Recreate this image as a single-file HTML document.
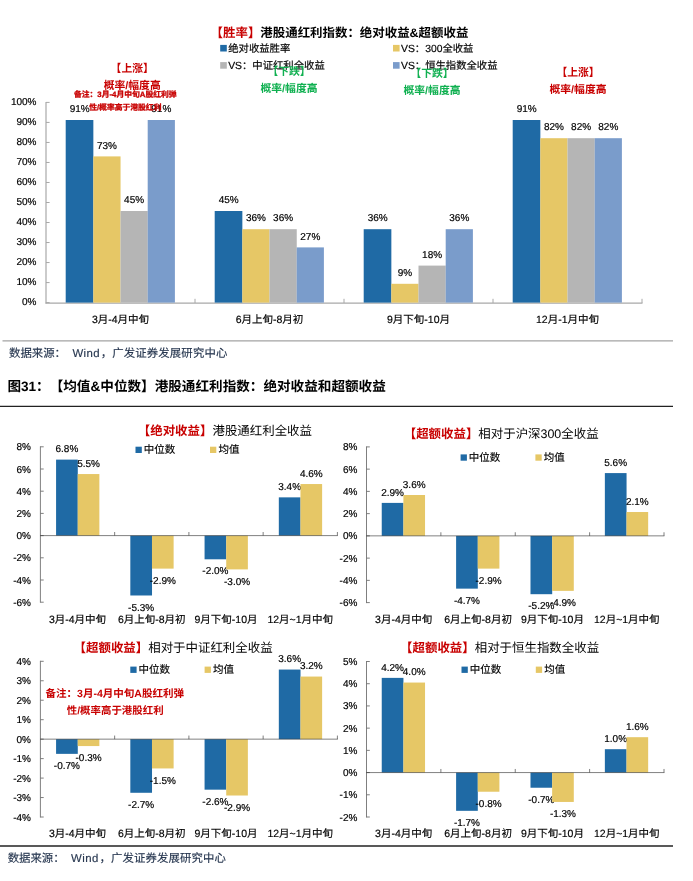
<!DOCTYPE html>
<html lang="zh-CN">
<head>
<meta charset="utf-8">
<title>港股通红利指数：绝对收益与超额收益</title>
<style>
html,body{margin:0;padding:0;background:#fff;}
body{width:693px;height:881px;overflow:hidden;}
svg{display:block;}
.c{font-family:"Liberation Sans","Noto Sans CJK SC",sans-serif;text-spacing-trim:space-all;}
.n{font-family:"Liberation Sans",sans-serif;stroke:#000;stroke-width:0.18px;}
.k{stroke:#000;stroke-width:0.16px;}
</style>
</head>
<body>
<svg width="693" height="881" viewBox="0 0 693 881" text-rendering="geometricPrecision">
<g>
<text class="c" x="210.6" y="36.7" font-size="12.45" font-weight="700"><tspan fill="#c80000">【胜率】</tspan><tspan fill="#000">港股通红利指数：绝对收益&amp;超额收益</tspan></text>
<rect x="220.2" y="44.9" width="6.6" height="6.6" fill="#1f6aa5"/>
<text class="c k" x="228.2" y="51.65" font-size="10.35" text-anchor="start" fill="#000">绝对收益胜率</text>
<rect x="393" y="44.9" width="6.6" height="6.6" fill="#e6c766"/>
<text class="c k" x="401" y="51.65" font-size="10.35" text-anchor="start" fill="#000">VS：300全收益</text>
<rect x="220.2" y="62.1" width="6.6" height="6.6" fill="#b5b5b5"/>
<text class="c k" x="228.2" y="68.85" font-size="10.35" text-anchor="start" fill="#000">VS：中证红利全收益</text>
<rect x="393" y="62.1" width="6.6" height="6.6" fill="#7a9ccb"/>
<text class="c k" x="401" y="68.85" font-size="10.35" text-anchor="start" fill="#000">VS：恒生指数全收益</text>
<line x1="46" y1="101.9" x2="46" y2="303.5" stroke="#a8a8a8" stroke-width="1.2"/>
<line x1="46" y1="302.6" x2="49.6" y2="302.6" stroke="#a8a8a8" stroke-width="1"/>
<text class="n" x="36.5" y="305.35" font-size="10" text-anchor="end" fill="#000">0%</text>
<line x1="46" y1="282.58" x2="49.6" y2="282.58" stroke="#a8a8a8" stroke-width="1"/>
<text class="n" x="36.5" y="285.33" font-size="10" text-anchor="end" fill="#000">10%</text>
<line x1="46" y1="262.56" x2="49.6" y2="262.56" stroke="#a8a8a8" stroke-width="1"/>
<text class="n" x="36.5" y="265.31" font-size="10" text-anchor="end" fill="#000">20%</text>
<line x1="46" y1="242.54" x2="49.6" y2="242.54" stroke="#a8a8a8" stroke-width="1"/>
<text class="n" x="36.5" y="245.29" font-size="10" text-anchor="end" fill="#000">30%</text>
<line x1="46" y1="222.52" x2="49.6" y2="222.52" stroke="#a8a8a8" stroke-width="1"/>
<text class="n" x="36.5" y="225.27" font-size="10" text-anchor="end" fill="#000">40%</text>
<line x1="46" y1="202.5" x2="49.6" y2="202.5" stroke="#a8a8a8" stroke-width="1"/>
<text class="n" x="36.5" y="205.25" font-size="10" text-anchor="end" fill="#000">50%</text>
<line x1="46" y1="182.48" x2="49.6" y2="182.48" stroke="#a8a8a8" stroke-width="1"/>
<text class="n" x="36.5" y="185.23" font-size="10" text-anchor="end" fill="#000">60%</text>
<line x1="46" y1="162.46" x2="49.6" y2="162.46" stroke="#a8a8a8" stroke-width="1"/>
<text class="n" x="36.5" y="165.21" font-size="10" text-anchor="end" fill="#000">70%</text>
<line x1="46" y1="142.44" x2="49.6" y2="142.44" stroke="#a8a8a8" stroke-width="1"/>
<text class="n" x="36.5" y="145.19" font-size="10" text-anchor="end" fill="#000">80%</text>
<line x1="46" y1="122.42" x2="49.6" y2="122.42" stroke="#a8a8a8" stroke-width="1"/>
<text class="n" x="36.5" y="125.17" font-size="10" text-anchor="end" fill="#000">90%</text>
<line x1="46" y1="102.4" x2="49.6" y2="102.4" stroke="#a8a8a8" stroke-width="1"/>
<text class="n" x="36.5" y="105.15" font-size="10" text-anchor="end" fill="#000">100%</text>
<line x1="45.5" y1="303.1" x2="642.5" y2="303.1" stroke="#a8a8a8" stroke-width="1.2"/>
<line x1="195" y1="303" x2="195" y2="298.8" stroke="#a8a8a8" stroke-width="1"/>
<line x1="344" y1="303" x2="344" y2="298.8" stroke="#a8a8a8" stroke-width="1"/>
<line x1="493" y1="303" x2="493" y2="298.8" stroke="#a8a8a8" stroke-width="1"/>
<line x1="642" y1="303" x2="642" y2="298.8" stroke="#a8a8a8" stroke-width="1"/>
<rect x="65.7" y="120" width="27.65" height="182.6" fill="#1f6aa5"/>
<text class="n" x="79.7" y="112.1" font-size="10" text-anchor="middle" fill="#000">91%</text>
<rect x="93.3" y="156.4" width="27.25" height="146.2" fill="#e6c766"/>
<text class="n" x="106.9" y="148.5" font-size="10" text-anchor="middle" fill="#000">73%</text>
<rect x="120.5" y="211" width="27.25" height="91.6" fill="#b5b5b5"/>
<text class="n" x="134.1" y="203.1" font-size="10" text-anchor="middle" fill="#000">45%</text>
<rect x="147.7" y="120" width="27.2" height="182.6" fill="#7a9ccb"/>
<text class="n" x="161.3" y="112.1" font-size="10" text-anchor="middle" fill="#000">91%</text>
<text class="c k" x="120.5" y="322.95" font-size="10.5" text-anchor="middle" fill="#000">3月-4月中旬</text>
<rect x="214.7" y="211" width="27.65" height="91.6" fill="#1f6aa5"/>
<text class="n" x="228.7" y="203.1" font-size="10" text-anchor="middle" fill="#000">45%</text>
<rect x="242.3" y="229.2" width="27.25" height="73.4" fill="#e6c766"/>
<text class="n" x="255.9" y="221.3" font-size="10" text-anchor="middle" fill="#000">36%</text>
<rect x="269.5" y="229.2" width="27.25" height="73.4" fill="#b5b5b5"/>
<text class="n" x="283.1" y="221.3" font-size="10" text-anchor="middle" fill="#000">36%</text>
<rect x="296.7" y="247.4" width="27.2" height="55.2" fill="#7a9ccb"/>
<text class="n" x="310.3" y="239.5" font-size="10" text-anchor="middle" fill="#000">27%</text>
<text class="c k" x="269.5" y="322.95" font-size="10.5" text-anchor="middle" fill="#000">6月上旬-8月初</text>
<rect x="363.7" y="229.2" width="27.65" height="73.4" fill="#1f6aa5"/>
<text class="n" x="377.7" y="221.3" font-size="10" text-anchor="middle" fill="#000">36%</text>
<rect x="391.3" y="283.8" width="27.25" height="18.8" fill="#e6c766"/>
<text class="n" x="404.9" y="275.9" font-size="10" text-anchor="middle" fill="#000">9%</text>
<rect x="418.5" y="265.6" width="27.25" height="37" fill="#b5b5b5"/>
<text class="n" x="432.1" y="257.7" font-size="10" text-anchor="middle" fill="#000">18%</text>
<rect x="445.7" y="229.2" width="27.2" height="73.4" fill="#7a9ccb"/>
<text class="n" x="459.3" y="221.3" font-size="10" text-anchor="middle" fill="#000">36%</text>
<text class="c k" x="418.5" y="322.95" font-size="10.5" text-anchor="middle" fill="#000">9月下旬-10月</text>
<rect x="512.7" y="120" width="27.65" height="182.6" fill="#1f6aa5"/>
<text class="n" x="526.7" y="112.1" font-size="10" text-anchor="middle" fill="#000">91%</text>
<rect x="540.3" y="138.2" width="27.25" height="164.4" fill="#e6c766"/>
<text class="n" x="553.9" y="130.3" font-size="10" text-anchor="middle" fill="#000">82%</text>
<rect x="567.5" y="138.2" width="27.25" height="164.4" fill="#b5b5b5"/>
<text class="n" x="581.1" y="130.3" font-size="10" text-anchor="middle" fill="#000">82%</text>
<rect x="594.7" y="138.2" width="27.2" height="164.4" fill="#7a9ccb"/>
<text class="n" x="608.3" y="130.3" font-size="10" text-anchor="middle" fill="#000">82%</text>
<text class="c k" x="567.5" y="322.95" font-size="10.5" text-anchor="middle" fill="#000">12月-1月中旬</text>
<text class="c" x="132.2" y="71.5" font-size="10.8" text-anchor="middle" fill="#c80000" font-weight="700">【上涨】</text>
<text class="c" x="132.2" y="88.7" font-size="10.8" text-anchor="middle" fill="#c80000" font-weight="700">概率/幅度高</text>
<text class="c" x="289" y="75" font-size="10.8" text-anchor="middle" fill="#0fb050" font-weight="700">【下跌】</text>
<text class="c" x="289" y="92" font-size="10.8" text-anchor="middle" fill="#0fb050" font-weight="700">概率/幅度高</text>
<text class="c" x="432" y="77" font-size="10.8" text-anchor="middle" fill="#0fb050" font-weight="700">【下跌】</text>
<text class="c" x="432" y="94" font-size="10.8" text-anchor="middle" fill="#0fb050" font-weight="700">概率/幅度高</text>
<text class="c" x="578" y="75.8" font-size="10.8" text-anchor="middle" fill="#c80000" font-weight="700">【上涨】</text>
<text class="c" x="578" y="93.1" font-size="10.8" text-anchor="middle" fill="#c80000" font-weight="700">概率/幅度高</text>
<text class="c" x="125.3" y="96.69" font-size="7.8" text-anchor="middle" fill="#c80000" font-weight="700" stroke="#c80000" stroke-width="0.3">备注：3月-4月中旬A股红利弹</text>
<text class="c" x="125.3" y="109.99" font-size="7.8" text-anchor="middle" fill="#c80000" font-weight="700" stroke="#c80000" stroke-width="0.3">性/概率高于港股红利</text>
<line x1="2.5" y1="340.8" x2="673" y2="340.8" stroke="#a3a3a3" stroke-width="1.25"/>
<text class="c" y="356.58" font-size="11.4" fill="#26364f" stroke="#26364f" stroke-width="0.15"><tspan x="9">数据来源：</tspan><tspan x="72.4" letter-spacing="0.45">Wind</tspan><tspan x="100.8" letter-spacing="0.12">，广发证券发展研究中心</tspan></text>
<text class="c" x="7.4" y="390.92" font-size="13.6" text-anchor="start" fill="#000" font-weight="700">图31：</text>
<text class="c" x="49.7" y="390.92" font-size="13.6" text-anchor="start" fill="#000" font-weight="700">【均值&amp;中位数】港股通红利指数：绝对收益和超额收益</text>
<line x1="0" y1="406.4" x2="673" y2="406.4" stroke="#222" stroke-width="1.3"/>
<line x1="0" y1="846" x2="673" y2="846" stroke="#222" stroke-width="1.3"/>
<text class="c" y="861.58" font-size="11.4" fill="#26364f" stroke="#26364f" stroke-width="0.15"><tspan x="7.7">数据来源：</tspan><tspan x="71.1" letter-spacing="0.45">Wind</tspan><tspan x="99.5" letter-spacing="0.12">，广发证券发展研究中心</tspan></text>
<text class="c" x="137.8" y="434.78" font-size="12.45"><tspan fill="#c80000" font-weight="700">【绝对收益】</tspan><tspan fill="#000">港股通红利全收益</tspan></text>
<rect x="135.5" y="446.7" width="6.3" height="6.3" fill="#1f6aa5"/>
<text class="c k" x="143.7" y="453.25" font-size="10.5" text-anchor="start" fill="#000">中位数</text>
<rect x="210" y="446.7" width="6.3" height="6.3" fill="#e6c766"/>
<text class="c k" x="218.4" y="453.25" font-size="10.5" text-anchor="start" fill="#000">均值</text>
<line x1="40.4" y1="446.3" x2="40.4" y2="602.7" stroke="#707070" stroke-width="0.9"/>
<line x1="40.4" y1="446.8" x2="43.7" y2="446.8" stroke="#707070" stroke-width="0.9"/>
<text class="n" x="31" y="450.35" font-size="10" text-anchor="end" fill="#000">8%</text>
<line x1="40.4" y1="469" x2="43.7" y2="469" stroke="#707070" stroke-width="0.9"/>
<text class="n" x="31" y="472.55" font-size="10" text-anchor="end" fill="#000">6%</text>
<line x1="40.4" y1="491.2" x2="43.7" y2="491.2" stroke="#707070" stroke-width="0.9"/>
<text class="n" x="31" y="494.75" font-size="10" text-anchor="end" fill="#000">4%</text>
<line x1="40.4" y1="513.4" x2="43.7" y2="513.4" stroke="#707070" stroke-width="0.9"/>
<text class="n" x="31" y="516.95" font-size="10" text-anchor="end" fill="#000">2%</text>
<line x1="40.4" y1="535.6" x2="43.7" y2="535.6" stroke="#707070" stroke-width="0.9"/>
<text class="n" x="31" y="539.15" font-size="10" text-anchor="end" fill="#000">0%</text>
<line x1="40.4" y1="557.8" x2="43.7" y2="557.8" stroke="#707070" stroke-width="0.9"/>
<text class="n" x="31" y="561.35" font-size="10" text-anchor="end" fill="#000">-2%</text>
<line x1="40.4" y1="580" x2="43.7" y2="580" stroke="#707070" stroke-width="0.9"/>
<text class="n" x="31" y="583.55" font-size="10" text-anchor="end" fill="#000">-4%</text>
<line x1="40.4" y1="602.2" x2="43.7" y2="602.2" stroke="#707070" stroke-width="0.9"/>
<text class="n" x="31" y="605.75" font-size="10" text-anchor="end" fill="#000">-6%</text>
<line x1="114.65" y1="535.6" x2="114.65" y2="532" stroke="#707070" stroke-width="0.9"/>
<line x1="188.9" y1="535.6" x2="188.9" y2="532" stroke="#707070" stroke-width="0.9"/>
<line x1="263.15" y1="535.6" x2="263.15" y2="532" stroke="#707070" stroke-width="0.9"/>
<line x1="337.4" y1="535.6" x2="337.4" y2="532" stroke="#707070" stroke-width="0.9"/>
<rect x="56.08" y="459.62" width="21.7" height="75.98" fill="#1f6aa5"/>
<text class="n" x="66.9" y="452.32" font-size="10" text-anchor="middle" fill="#000">6.8%</text>
<rect x="77.72" y="474.05" width="21.65" height="61.55" fill="#e6c766"/>
<text class="n" x="88.55" y="466.75" font-size="10" text-anchor="middle" fill="#000">5.5%</text>
<text class="c k" x="77.53" y="622.65" font-size="10.5" text-anchor="middle" fill="#000">3月-4月中旬</text>
<rect x="130.32" y="535.6" width="21.7" height="59.89" fill="#1f6aa5"/>
<text class="n" x="141.15" y="610.63" font-size="10" text-anchor="middle" fill="#000">-5.3%</text>
<rect x="151.97" y="535.6" width="21.65" height="33.02" fill="#e6c766"/>
<text class="n" x="162.8" y="583.77" font-size="10" text-anchor="middle" fill="#000">-2.9%</text>
<text class="c k" x="151.78" y="622.65" font-size="10.5" text-anchor="middle" fill="#000">6月上旬-8月初</text>
<rect x="204.57" y="535.6" width="21.7" height="23.7" fill="#1f6aa5"/>
<text class="n" x="215.4" y="574.45" font-size="10" text-anchor="middle" fill="#000">-2.0%</text>
<rect x="226.22" y="535.6" width="21.65" height="33.8" fill="#e6c766"/>
<text class="n" x="237.05" y="584.55" font-size="10" text-anchor="middle" fill="#000">-3.0%</text>
<text class="c k" x="226.03" y="622.65" font-size="10.5" text-anchor="middle" fill="#000">9月下旬-10月</text>
<rect x="278.82" y="497.36" width="21.7" height="38.24" fill="#1f6aa5"/>
<text class="n" x="289.65" y="490.06" font-size="10" text-anchor="middle" fill="#000">3.4%</text>
<rect x="300.47" y="484.04" width="21.65" height="51.56" fill="#e6c766"/>
<text class="n" x="311.3" y="476.74" font-size="10" text-anchor="middle" fill="#000">4.6%</text>
<text class="c k" x="300.27" y="622.65" font-size="10.5" text-anchor="middle" fill="#000">12月~1月中旬</text>
<line x1="40" y1="535.6" x2="337.8" y2="535.6" stroke="#3c3c3c" stroke-opacity="0.72" stroke-width="0.9"/>
<text class="c" x="403.7" y="437.78" font-size="12.45"><tspan fill="#c80000" font-weight="700">【超额收益】</tspan><tspan fill="#000">相对于沪深300全收益</tspan></text>
<rect x="460.6" y="454.4" width="6.3" height="6.3" fill="#1f6aa5"/>
<text class="c k" x="468.8" y="460.95" font-size="10.5" text-anchor="start" fill="#000">中位数</text>
<rect x="535.4" y="454.4" width="6.3" height="6.3" fill="#e6c766"/>
<text class="c k" x="543.8" y="460.95" font-size="10.5" text-anchor="start" fill="#000">均值</text>
<line x1="366.5" y1="446.4" x2="366.5" y2="603.1" stroke="#707070" stroke-width="0.9"/>
<line x1="366.5" y1="446.9" x2="369.8" y2="446.9" stroke="#707070" stroke-width="0.9"/>
<text class="n" x="357.4" y="450.45" font-size="10" text-anchor="end" fill="#000">8%</text>
<line x1="366.5" y1="469.14" x2="369.8" y2="469.14" stroke="#707070" stroke-width="0.9"/>
<text class="n" x="357.4" y="472.69" font-size="10" text-anchor="end" fill="#000">6%</text>
<line x1="366.5" y1="491.39" x2="369.8" y2="491.39" stroke="#707070" stroke-width="0.9"/>
<text class="n" x="357.4" y="494.94" font-size="10" text-anchor="end" fill="#000">4%</text>
<line x1="366.5" y1="513.63" x2="369.8" y2="513.63" stroke="#707070" stroke-width="0.9"/>
<text class="n" x="357.4" y="517.18" font-size="10" text-anchor="end" fill="#000">2%</text>
<line x1="366.5" y1="535.87" x2="369.8" y2="535.87" stroke="#707070" stroke-width="0.9"/>
<text class="n" x="357.4" y="539.42" font-size="10" text-anchor="end" fill="#000">0%</text>
<line x1="366.5" y1="558.11" x2="369.8" y2="558.11" stroke="#707070" stroke-width="0.9"/>
<text class="n" x="357.4" y="561.66" font-size="10" text-anchor="end" fill="#000">-2%</text>
<line x1="366.5" y1="580.36" x2="369.8" y2="580.36" stroke="#707070" stroke-width="0.9"/>
<text class="n" x="357.4" y="583.91" font-size="10" text-anchor="end" fill="#000">-4%</text>
<line x1="366.5" y1="602.6" x2="369.8" y2="602.6" stroke="#707070" stroke-width="0.9"/>
<text class="n" x="357.4" y="606.15" font-size="10" text-anchor="end" fill="#000">-6%</text>
<line x1="440.88" y1="535.87" x2="440.88" y2="532.27" stroke="#707070" stroke-width="0.9"/>
<line x1="515.25" y1="535.87" x2="515.25" y2="532.27" stroke="#707070" stroke-width="0.9"/>
<line x1="589.62" y1="535.87" x2="589.62" y2="532.27" stroke="#707070" stroke-width="0.9"/>
<line x1="664" y1="535.87" x2="664" y2="532.27" stroke="#707070" stroke-width="0.9"/>
<rect x="381.74" y="502.9" width="21.7" height="32.97" fill="#1f6aa5"/>
<text class="n" x="392.56" y="495.6" font-size="10" text-anchor="middle" fill="#000">2.9%</text>
<rect x="403.39" y="495" width="21.65" height="40.87" fill="#e6c766"/>
<text class="n" x="414.21" y="487.7" font-size="10" text-anchor="middle" fill="#000">3.6%</text>
<text class="c k" x="403.69" y="622.95" font-size="10.5" text-anchor="middle" fill="#000">3月-4月中旬</text>
<rect x="456.11" y="535.87" width="21.7" height="52.77" fill="#1f6aa5"/>
<text class="n" x="466.94" y="603.79" font-size="10" text-anchor="middle" fill="#000">-4.7%</text>
<rect x="477.76" y="535.87" width="21.65" height="32.75" fill="#e6c766"/>
<text class="n" x="488.59" y="583.77" font-size="10" text-anchor="middle" fill="#000">-2.9%</text>
<text class="c k" x="478.06" y="622.95" font-size="10.5" text-anchor="middle" fill="#000">6月上旬-8月初</text>
<rect x="530.49" y="535.87" width="21.7" height="58.33" fill="#1f6aa5"/>
<text class="n" x="541.31" y="609.35" font-size="10" text-anchor="middle" fill="#000">-5.2%</text>
<rect x="552.14" y="535.87" width="21.65" height="55" fill="#e6c766"/>
<text class="n" x="562.96" y="606.02" font-size="10" text-anchor="middle" fill="#000">-4.9%</text>
<text class="c k" x="552.44" y="622.95" font-size="10.5" text-anchor="middle" fill="#000">9月下旬-10月</text>
<rect x="604.86" y="473.09" width="21.7" height="62.78" fill="#1f6aa5"/>
<text class="n" x="615.69" y="465.79" font-size="10" text-anchor="middle" fill="#000">5.6%</text>
<rect x="626.51" y="512.02" width="21.65" height="23.86" fill="#e6c766"/>
<text class="n" x="637.34" y="504.72" font-size="10" text-anchor="middle" fill="#000">2.1%</text>
<text class="c k" x="626.81" y="622.95" font-size="10.5" text-anchor="middle" fill="#000">12月~1月中旬</text>
<line x1="366.1" y1="535.87" x2="664.4" y2="535.87" stroke="#3c3c3c" stroke-opacity="0.72" stroke-width="0.9"/>
<text class="c" x="73.6" y="651.98" font-size="12.45"><tspan fill="#c80000" font-weight="700">【超额收益】</tspan><tspan fill="#000">相对于中证红利全收益</tspan></text>
<rect x="130.3" y="666.6" width="6.3" height="6.3" fill="#1f6aa5"/>
<text class="c k" x="138.5" y="673.15" font-size="10.5" text-anchor="start" fill="#000">中位数</text>
<rect x="204.6" y="666.6" width="6.3" height="6.3" fill="#e6c766"/>
<text class="c k" x="213" y="673.15" font-size="10.5" text-anchor="start" fill="#000">均值</text>
<line x1="40.4" y1="660.8" x2="40.4" y2="817.5" stroke="#707070" stroke-width="0.9"/>
<line x1="40.4" y1="661.3" x2="43.7" y2="661.3" stroke="#707070" stroke-width="0.9"/>
<text class="n" x="31" y="664.85" font-size="10" text-anchor="end" fill="#000">4%</text>
<line x1="40.4" y1="680.76" x2="43.7" y2="680.76" stroke="#707070" stroke-width="0.9"/>
<text class="n" x="31" y="684.31" font-size="10" text-anchor="end" fill="#000">3%</text>
<line x1="40.4" y1="700.22" x2="43.7" y2="700.22" stroke="#707070" stroke-width="0.9"/>
<text class="n" x="31" y="703.77" font-size="10" text-anchor="end" fill="#000">2%</text>
<line x1="40.4" y1="719.69" x2="43.7" y2="719.69" stroke="#707070" stroke-width="0.9"/>
<text class="n" x="31" y="723.24" font-size="10" text-anchor="end" fill="#000">1%</text>
<line x1="40.4" y1="739.15" x2="43.7" y2="739.15" stroke="#707070" stroke-width="0.9"/>
<text class="n" x="31" y="742.7" font-size="10" text-anchor="end" fill="#000">0%</text>
<line x1="40.4" y1="758.61" x2="43.7" y2="758.61" stroke="#707070" stroke-width="0.9"/>
<text class="n" x="31" y="762.16" font-size="10" text-anchor="end" fill="#000">-1%</text>
<line x1="40.4" y1="778.08" x2="43.7" y2="778.08" stroke="#707070" stroke-width="0.9"/>
<text class="n" x="31" y="781.62" font-size="10" text-anchor="end" fill="#000">-2%</text>
<line x1="40.4" y1="797.54" x2="43.7" y2="797.54" stroke="#707070" stroke-width="0.9"/>
<text class="n" x="31" y="801.09" font-size="10" text-anchor="end" fill="#000">-3%</text>
<line x1="40.4" y1="817" x2="43.7" y2="817" stroke="#707070" stroke-width="0.9"/>
<text class="n" x="31" y="820.55" font-size="10" text-anchor="end" fill="#000">-4%</text>
<line x1="114.65" y1="739.15" x2="114.65" y2="735.55" stroke="#707070" stroke-width="0.9"/>
<line x1="188.9" y1="739.15" x2="188.9" y2="735.55" stroke="#707070" stroke-width="0.9"/>
<line x1="263.15" y1="739.15" x2="263.15" y2="735.55" stroke="#707070" stroke-width="0.9"/>
<line x1="337.4" y1="739.15" x2="337.4" y2="735.55" stroke="#707070" stroke-width="0.9"/>
<rect x="56.08" y="739.15" width="21.7" height="14.71" fill="#1f6aa5"/>
<text class="n" x="66.9" y="769.01" font-size="10" text-anchor="middle" fill="#000">-0.7%</text>
<rect x="77.72" y="739.15" width="21.65" height="6.92" fill="#e6c766"/>
<text class="n" x="88.55" y="761.22" font-size="10" text-anchor="middle" fill="#000">-0.3%</text>
<text class="c k" x="77.53" y="837.45" font-size="10.5" text-anchor="middle" fill="#000">3月-4月中旬</text>
<rect x="130.32" y="739.15" width="21.7" height="53.63" fill="#1f6aa5"/>
<text class="n" x="141.15" y="807.93" font-size="10" text-anchor="middle" fill="#000">-2.7%</text>
<rect x="151.97" y="739.15" width="21.65" height="29.3" fill="#e6c766"/>
<text class="n" x="162.8" y="783.6" font-size="10" text-anchor="middle" fill="#000">-1.5%</text>
<text class="c k" x="151.78" y="837.45" font-size="10.5" text-anchor="middle" fill="#000">6月上旬-8月初</text>
<rect x="204.57" y="739.15" width="21.7" height="50.52" fill="#1f6aa5"/>
<text class="n" x="215.4" y="804.82" font-size="10" text-anchor="middle" fill="#000">-2.6%</text>
<rect x="226.22" y="739.15" width="21.65" height="56.36" fill="#e6c766"/>
<text class="n" x="237.05" y="810.66" font-size="10" text-anchor="middle" fill="#000">-2.9%</text>
<text class="c k" x="226.03" y="837.45" font-size="10.5" text-anchor="middle" fill="#000">9月下旬-10月</text>
<rect x="278.82" y="669.56" width="21.7" height="69.59" fill="#1f6aa5"/>
<text class="n" x="289.65" y="662.26" font-size="10" text-anchor="middle" fill="#000">3.6%</text>
<rect x="300.47" y="676.56" width="21.65" height="62.59" fill="#e6c766"/>
<text class="n" x="311.3" y="669.26" font-size="10" text-anchor="middle" fill="#000">3.2%</text>
<text class="c k" x="300.27" y="837.45" font-size="10.5" text-anchor="middle" fill="#000">12月~1月中旬</text>
<line x1="40" y1="739.15" x2="337.8" y2="739.15" stroke="#3c3c3c" stroke-opacity="0.72" stroke-width="0.9"/>
<text class="c" x="114.8" y="696.95" font-size="10.52" text-anchor="middle" fill="#c80000" font-weight="700">备注：3月-4月中旬A股红利弹</text>
<text class="c" x="115.2" y="714.25" font-size="10.45" text-anchor="middle" fill="#c80000" font-weight="700">性/概率高于港股红利</text>
<text class="c" x="400.1" y="651.88" font-size="12.45"><tspan fill="#c80000" font-weight="700">【超额收益】</tspan><tspan fill="#000">相对于恒生指数全收益</tspan></text>
<rect x="461.5" y="666.6" width="6.3" height="6.3" fill="#1f6aa5"/>
<text class="c k" x="469.7" y="673.15" font-size="10.5" text-anchor="start" fill="#000">中位数</text>
<rect x="535.8" y="666.6" width="6.3" height="6.3" fill="#e6c766"/>
<text class="c k" x="544.2" y="673.15" font-size="10.5" text-anchor="start" fill="#000">均值</text>
<line x1="366.5" y1="661" x2="366.5" y2="817.5" stroke="#707070" stroke-width="0.9"/>
<line x1="366.5" y1="661.5" x2="369.8" y2="661.5" stroke="#707070" stroke-width="0.9"/>
<text class="n" x="357.4" y="665.05" font-size="10" text-anchor="end" fill="#000">5%</text>
<line x1="366.5" y1="683.71" x2="369.8" y2="683.71" stroke="#707070" stroke-width="0.9"/>
<text class="n" x="357.4" y="687.26" font-size="10" text-anchor="end" fill="#000">4%</text>
<line x1="366.5" y1="705.93" x2="369.8" y2="705.93" stroke="#707070" stroke-width="0.9"/>
<text class="n" x="357.4" y="709.48" font-size="10" text-anchor="end" fill="#000">3%</text>
<line x1="366.5" y1="728.14" x2="369.8" y2="728.14" stroke="#707070" stroke-width="0.9"/>
<text class="n" x="357.4" y="731.69" font-size="10" text-anchor="end" fill="#000">2%</text>
<line x1="366.5" y1="750.36" x2="369.8" y2="750.36" stroke="#707070" stroke-width="0.9"/>
<text class="n" x="357.4" y="753.91" font-size="10" text-anchor="end" fill="#000">1%</text>
<line x1="366.5" y1="772.57" x2="369.8" y2="772.57" stroke="#707070" stroke-width="0.9"/>
<text class="n" x="357.4" y="776.12" font-size="10" text-anchor="end" fill="#000">0%</text>
<line x1="366.5" y1="794.79" x2="369.8" y2="794.79" stroke="#707070" stroke-width="0.9"/>
<text class="n" x="357.4" y="798.34" font-size="10" text-anchor="end" fill="#000">-1%</text>
<line x1="366.5" y1="817" x2="369.8" y2="817" stroke="#707070" stroke-width="0.9"/>
<text class="n" x="357.4" y="820.55" font-size="10" text-anchor="end" fill="#000">-2%</text>
<line x1="440.88" y1="772.57" x2="440.88" y2="768.97" stroke="#707070" stroke-width="0.9"/>
<line x1="515.25" y1="772.57" x2="515.25" y2="768.97" stroke="#707070" stroke-width="0.9"/>
<line x1="589.62" y1="772.57" x2="589.62" y2="768.97" stroke="#707070" stroke-width="0.9"/>
<line x1="664" y1="772.57" x2="664" y2="768.97" stroke="#707070" stroke-width="0.9"/>
<rect x="381.74" y="677.88" width="21.7" height="94.69" fill="#1f6aa5"/>
<text class="n" x="392.56" y="670.58" font-size="10" text-anchor="middle" fill="#000">4.2%</text>
<rect x="403.39" y="682.55" width="21.65" height="90.02" fill="#e6c766"/>
<text class="n" x="414.21" y="675.25" font-size="10" text-anchor="middle" fill="#000">4.0%</text>
<text class="c k" x="403.69" y="837.45" font-size="10.5" text-anchor="middle" fill="#000">3月-4月中旬</text>
<rect x="456.11" y="772.57" width="21.7" height="38.26" fill="#1f6aa5"/>
<text class="n" x="466.94" y="825.99" font-size="10" text-anchor="middle" fill="#000">-1.7%</text>
<rect x="477.76" y="772.57" width="21.65" height="19.16" fill="#e6c766"/>
<text class="n" x="488.59" y="806.88" font-size="10" text-anchor="middle" fill="#000">-0.8%</text>
<text class="c k" x="478.06" y="837.45" font-size="10.5" text-anchor="middle" fill="#000">6月上旬-8月初</text>
<rect x="530.49" y="772.57" width="21.7" height="15.16" fill="#1f6aa5"/>
<text class="n" x="541.31" y="802.88" font-size="10" text-anchor="middle" fill="#000">-0.7%</text>
<rect x="552.14" y="772.57" width="21.65" height="29.38" fill="#e6c766"/>
<text class="n" x="562.96" y="817.1" font-size="10" text-anchor="middle" fill="#000">-1.3%</text>
<text class="c k" x="552.44" y="837.45" font-size="10.5" text-anchor="middle" fill="#000">9月下旬-10月</text>
<rect x="604.86" y="749.19" width="21.7" height="23.38" fill="#1f6aa5"/>
<text class="n" x="615.69" y="741.89" font-size="10" text-anchor="middle" fill="#000">1.0%</text>
<rect x="626.51" y="737.19" width="21.65" height="35.38" fill="#e6c766"/>
<text class="n" x="637.34" y="729.89" font-size="10" text-anchor="middle" fill="#000">1.6%</text>
<text class="c k" x="626.81" y="837.45" font-size="10.5" text-anchor="middle" fill="#000">12月~1月中旬</text>
<line x1="366.1" y1="772.57" x2="664.4" y2="772.57" stroke="#3c3c3c" stroke-opacity="0.72" stroke-width="0.9"/>
</g>
</svg>
</body>
</html>
